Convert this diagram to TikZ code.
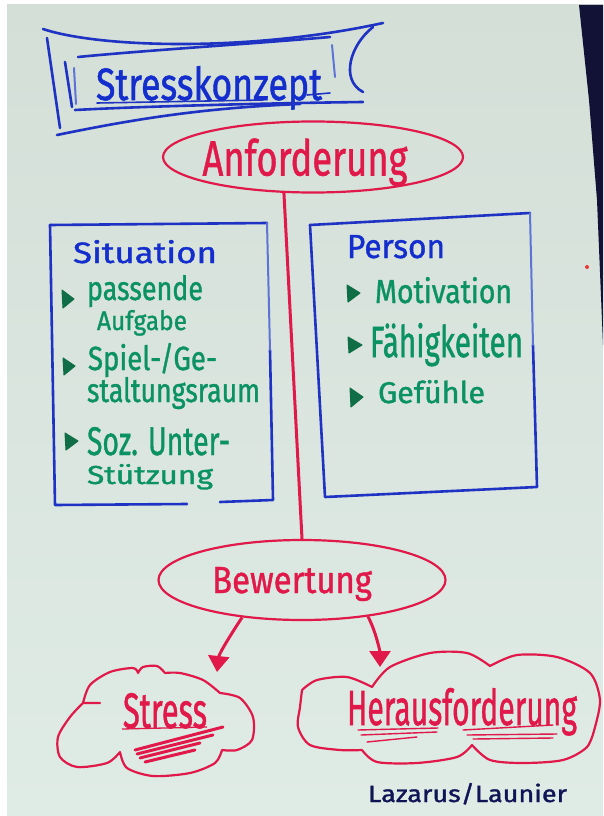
\documentclass[tikz,border=0pt]{standalone}
\usepackage{graphicx}
\usepackage{fontspec}
\setmainfont{Fira Sans}
\newfontfamily\markerfont[FakeBold=1.2]{Fira Sans}
\usetikzlibrary{arrows.meta,shapes.geometric}
\definecolor{paperA}{RGB}{211,223,215}
\definecolor{paperB}{RGB}{223,235,229}
\definecolor{mblue}{RGB}{30,50,195}
\definecolor{lblue}{RGB}{95,115,215}
\definecolor{tblue}{RGB}{20,45,205}
\definecolor{mred}{RGB}{225,25,75}
\definecolor{mgreen}{RGB}{10,145,100}
\definecolor{bgreen}{RGB}{15,110,70}
\definecolor{navy}{RGB}{15,20,85}
\definecolor{edgecol}{RGB}{18,18,55}
\newcommand{\fitt}[3]{\resizebox{#1pt}{#2pt}{#3}}
\tikzset{
  bluepen/.style={draw=mblue,line width=2.6pt,line cap=round,line join=round},
  lightpen/.style={draw=lblue,line width=2pt,line cap=round},
  redpen/.style={draw=mred,line width=2.2pt,line cap=round,line join=round},
  hand/.style={inner sep=0pt,outer sep=0pt,anchor=base west,font=\markerfont},
  bubble/.style={ellipse,draw=mred,line width=2.2pt,inner sep=0pt,text=mred,font=\markerfont,text height=#1pt,text depth=0pt},
  arr/.style={draw=mred,line width=3pt,-{Triangle[width=21pt,length=16pt]}},
  bulletmark/.style={fill=bgreen,draw=bgreen,line width=1pt,line join=round},
  greentext/.style={hand,text=mgreen},
}
\begin{document}
\begin{tikzpicture}[x=1pt,y=-1pt]
\useasboundingbox (0,0) rectangle (603,816);
% background
\fill[white] (0,0) rectangle (603,816);
\shade[top color=paperA,bottom color=paperB] (7,5) rectangle (603,816);
\fill[edgecol] (579,5) -- (603,5) -- (603,345) -- (597,200) -- (589,100) -- cycle;
\fill[mred!70!orange] (587,267) circle (2);

% title banner
\node[hand,text=tblue] (title) at (96,100) {\fitt{226}{34}{Stresskonzept}};
\draw[bluepen] (43,29) .. controls (100,48) and (250,52) .. (383,23);
\draw[bluepen] (47,38) -- (60,128);
\draw[bluepen] (57,135) .. controls (130,120) and (200,108) .. (300,104);
\draw[bluepen] (75,110) .. controls (150,106) and (280,103) .. (363,102);
\draw[bluepen] (78,57) .. controls (150,50) and (250,44) .. (330,37);
\draw[bluepen] (65,62) -- (72,107);
\draw[lightpen] (74,68) -- (76,104);
\draw[bluepen] (373,27) .. controls (350,45) and (340,80) .. (363,92);
\draw[lightpen] (332,45) -- (335,77);
\draw[bluepen,line width=1.6pt] (97,103) -- (263,100);
\draw[bluepen,line width=1.6pt] (307,95) -- (330,93);

% Anforderung
\node[bubble=37,minimum width=300pt,minimum height=71pt] (anf) at (313,157)
  {\kern-16pt\fitt{205}{37}{Anforderung}};
% Bewertung
\node[bubble=26,minimum width=287pt,minimum height=80pt] (bew) at (302,580)
  {\kern-20pt\fitt{160}{26}{Bewertung}};
\draw[redpen,line width=3pt] (anf.-129) -- (bew.north);

% Situation box
\draw[bluepen] (50,225) -- (267,223);
\draw[bluepen] (50,225) -- (55,505) -- (187,504);
\draw[bluepen] (220,502) -- (273,500) -- (270,350);
\draw[lightpen] (270,350) -- (267,223);
\node[hand,text=tblue] (sit) at (73,263) {\fitt{144}{23}{Situation}};
\draw[bulletmark] (62,290) -- (74,299) -- (63,308) -- cycle;
\draw[bulletmark] (63,358) -- (75,366) -- (64,375) -- cycle;
\draw[bulletmark] (65,433) -- (78,441) -- (66,450) -- cycle;
\node[greentext] (s1) at (87,300) {\fitt{116}{25}{passende}};
\node[greentext] (s2) at (97,330) {\fitt{90}{20}{Aufgabe}};
\node[greentext] (s3) at (88,370) {\fitt{129}{27}{Spiel-/Ge-}};
\node[greentext] (s4) at (87,402) {\fitt{173}{25}{staltungsraum}};
\node[greentext] (s5) at (87,455) {\fitt{143}{28}{Soz. Unter-}};
\node[greentext] (s6) at (87,484) {\fitt{126}{20}{Stützung}};

% Person box
\draw[bluepen] (310,225) -- (530,213);
\draw[bluepen] (310,225) -- (325,497) -- (537,487) -- (533,345);
\draw[lightpen] (533,345) -- (530,213);
\node[hand,text=tblue] (per) at (347,258) {\fitt{98}{23}{Person}};
\draw[bulletmark] (347,285) -- (360,293) -- (348,302) -- cycle;
\draw[bulletmark] (348,337) -- (362,345) -- (349,353) -- cycle;
\draw[bulletmark] (350,388) -- (363,397) -- (351,407) -- cycle;
\node[greentext] (p1) at (375,303) {\fitt{137}{26}{Motivation}};
\node[greentext] (p2) at (370,357) {\fitt{153}{34}{Fähigkeiten}};
\node[greentext] (p3) at (378,403) {\fitt{107}{23}{Gefühle}};

% Stress cloud
\node[hand,text=mred] (stress) at (123,728) {\fitt{84}{35}{Stress}};
\draw[redpen]
  plot[smooth] coordinates {(83,703) (90,685) (110,672) (133,668) (138,673)}
  plot[smooth] coordinates {(138,673) (143,667) (157,666) (165,673)}
  plot[smooth] coordinates {(165,673) (180,673) (203,680) (220,693)}
  plot[smooth] coordinates {(220,693) (240,698) (253,717) (252,740) (237,750) (222,750)}
  plot[smooth] coordinates {(222,750) (215,763) (190,773) (153,776) (127,768) (120,752)}
  plot[smooth] coordinates {(120,752) (107,763) (77,767) (60,757) (58,737) (70,717) (83,703)}
  (83,703) -- (100,703);
\draw[mred,line width=1.3pt] (122,729) -- (207,727);
\draw[mred,line width=3pt,line cap=round]
  (135,750) -- (223,727) (137,754) -- (213,735) (140,758) -- (200,743) (145,762) -- (195,750);

% Herausforderung cloud
\node[hand,text=mred] (her) at (347,725) {\fitt{230}{37}{Herausforderung}};
\draw[redpen]
  plot[smooth] coordinates {(302,690) (317,680) (347,677) (372,687)}
  plot[smooth] coordinates {(372,687) (390,667) (430,653) (467,653) (490,666)}
  plot[smooth] coordinates {(490,666) (517,655) (557,657) (590,673) (600,700) (595,727)}
  plot[smooth] coordinates {(595,727) (587,747) (563,760) (523,763) (490,760) (472,745)}
  plot[smooth] coordinates {(472,745) (457,757) (417,763) (377,762) (362,750)}
  plot[smooth] coordinates {(362,750) (340,750) (310,745) (298,727) (300,707) (302,690)};
\draw[mred,line width=1.4pt,line cap=round]
  (358,730) -- (438,728) (361,735) -- (437,732) (367,742) -- (417,737)
  (463,730) -- (553,725) (467,735) -- (557,734) (473,739) -- (553,738);

% arrows
\coordinate (stip) at (217,672);
\coordinate (htip) at (380,667);
\draw[arr] (bew.-148) .. controls +(-12,18) and +(2,-18) .. (stip);
\draw[arr] (bew.-29) .. controls +(8,15) and +(0,-15) .. (htip);

% author
\node[hand,text=navy] (laz) at (368,802) {\fitt{199}{19}{Lazarus/Launier}};
\end{tikzpicture}
\end{document}
